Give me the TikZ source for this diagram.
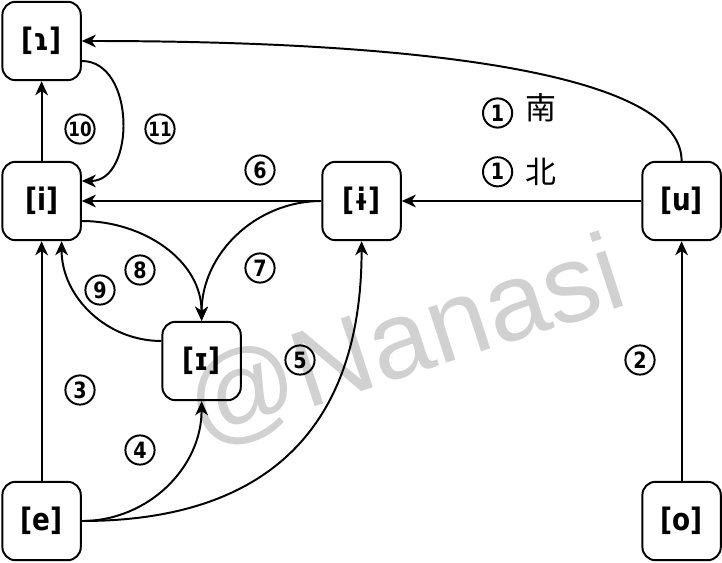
\documentclass[tikz,border=0pt]{standalone}
\usepackage{fontspec}
\setmainfont{DejaVu Sans}[FakeStretch=0.85]
\newfontfamily\cjk{Noto Sans CJK SC}
\newfontfamily\markfont{Liberation Sans}
\usetikzlibrary{arrows.meta,positioning}

\begin{document}
\begin{tikzpicture}[line width=1.4pt,
    >={Stealth[length=10pt,width=9pt,inset=3pt]},
    vowel/.style={draw,rounded corners=0.33cm,minimum size=1.96cm,inner sep=0pt,
      font=\bfseries\fontsize{22}{22}\selectfont},
    num/.style={draw,circle,line width=1.4pt,minimum size=0.73cm,inner sep=0pt,
      font=\bfseries\fontsize{16}{16}\selectfont},
    numtwo/.style={num,font=\bfseries\fontsize{14}{14}\selectfont},
    han/.style={inner sep=0pt,font=\cjk\fontsize{22}{22}\selectfont}]
  \useasboundingbox(-1.04,-1.025)rectangle(17.01,13.025);
  \node[rotate=18,text=black!18,font=\markfont\fontsize{78}{78}\selectfont](mark)at(9.1,4.45){@Nanasi};
  \node[vowel](shi)at(0,12){[ɿ]};
  \node[vowel](i)at(0,8){[i]};
  \node[vowel](ibar)at(8,8){[ɨ]};
  \node[vowel](u)at(16,8){[u]};
  \node[vowel](ismall)at(4,4){[ɪ]};
  \node[vowel](e)at(0,0){[e]};
  \node[vowel](o)at(16,0){[o]};
  \draw[->](u.north)..controls+(0,2)and+(9.5,0)..(shi.east);
  \draw[->](u)--(ibar);
  \draw[->](o)--(u);
  \draw[->](ibar)--(i);
  \draw[->](i)--(shi);
  \draw[->]([yshift=-0.5cm]shi.east)..controls+(1.35,0)and+(1.35,0)..([yshift=0.5cm]i.east);
  \draw[->]([yshift=-0.5cm]i.east)to[out=0,in=90](ismall.north);
  \draw[->](ibar.west)to[out=180,in=90](ismall.north);
  \draw[->]([yshift=0.5cm]ismall.west)to[out=180,in=-90]([xshift=0.5cm]i.south);
  \draw[->](e)--(i);
  \draw[->](e.east)to[out=0,in=-90](ismall.south);
  \draw[->](e.east)to[out=0,in=-90,looseness=1.2](ibar.south);
  \node[numtwo](n10)at(0.96,9.8){10};
  \node[numtwo](n11)at(2.96,9.8){11};
  \node[num](n6)at(5.46,8.775){6};
  \node[num](n7)at(5.46,6.325){7};
  \node[num](n8)at(2.46,6.275){8};
  \node[num](n9)at(1.46,5.775){9};
  \node[num](n3)at(0.96,3.275){3};
  \node[num](n4)at(2.46,1.775){4};
  \node[num](n5)at(6.46,4.025){5};
  \node[num](n2)at(14.96,4.025){2};
  \node[num](n1s)at(11.4,10.2){1};
  \node[han,right=8pt of n1s,yshift=0.14cm](nan){南};
  \node[num](n1n)at(11.4,8.73){1};
  \node[han,right=8pt of n1n](bei){北};
\end{tikzpicture}
\end{document}
